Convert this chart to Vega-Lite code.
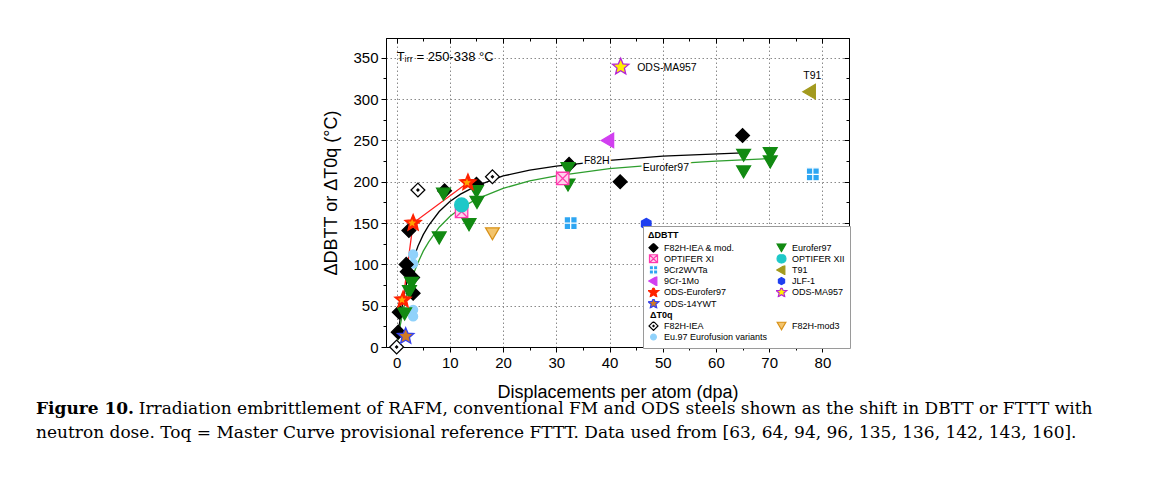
{
  "$schema": "https://vega.github.io/schema/vega-lite/v6.json",
  "width": 463,
  "height": 309,
  "autosize": {"type": "none"},
  "padding": {"left": 386, "top": 38, "right": 304, "bottom": 143},
  "background": "white",
  "config": {
    "font": "Liberation Sans",
    "view": {"stroke": "#000", "strokeWidth": 1}
  },
  "title": {
    "text": "Figure 10.",
    "subtitle": [
      "\u200b\u00a0\u00a0\u00a0\u00a0\u00a0\u00a0\u00a0\u00a0\u00a0\u00a0\u00a0\u00a0\u00a0\u00a0\u00a0\u00a0\u00a0\u00a0\u00a0Irradiation embrittlement of RAFM, conventional FM and ODS steels shown as the shift in DBTT or FTTT with",
      "neutron dose. Toq = Master Curve provisional reference FTTT. Data used from [63, 64, 94, 96, 135, 136, 142, 143, 160]."
    ],
    "orient": "bottom",
    "anchor": "start",
    "frame": "group",
    "dx": -350,
    "offset": 0,
    "font": "DejaVu Serif",
    "fontSize": 17,
    "fontWeight": "bold",
    "color": "#000",
    "subtitleFont": "DejaVu Serif",
    "subtitleFontSize": 17,
    "subtitleFontWeight": "normal",
    "subtitleColor": "#000",
    "subtitleLineHeight": 24,
    "subtitlePadding": -17
  },
  "datasets": {
    "pts": [
      {"material": "Eu.97 Eurofusion variants", "dpa": 3.1, "val": 112},
      {"material": "Eu.97 Eurofusion variants", "dpa": 3.1, "val": 101},
      {"material": "Eu.97 Eurofusion variants", "dpa": 3.1, "val": 45},
      {"material": "Eu.97 Eurofusion variants", "dpa": 3.1, "val": 37},
      {"material": "F82H-IEA", "dpa": 0, "val": 0},
      {"material": "F82H-IEA", "dpa": 4, "val": 190},
      {"material": "F82H-IEA", "dpa": 18, "val": 206},
      {"material": "F82H-mod3", "dpa": 18, "val": 137},
      {"material": "F82H-IEA & mod.", "dpa": 0.3, "val": 18},
      {"material": "F82H-IEA & mod.", "dpa": 0.5, "val": 42},
      {"material": "F82H-IEA & mod.", "dpa": 1.8, "val": 100},
      {"material": "F82H-IEA & mod.", "dpa": 2.0, "val": 91},
      {"material": "F82H-IEA & mod.", "dpa": 3.0, "val": 84},
      {"material": "F82H-IEA & mod.", "dpa": 3.1, "val": 65},
      {"material": "F82H-IEA & mod.", "dpa": 2.3, "val": 141},
      {"material": "F82H-IEA & mod.", "dpa": 9, "val": 189},
      {"material": "F82H-IEA & mod.", "dpa": 15, "val": 197},
      {"material": "F82H-IEA & mod.", "dpa": 32.4, "val": 221},
      {"material": "F82H-IEA & mod.", "dpa": 42, "val": 200},
      {"material": "F82H-IEA & mod.", "dpa": 65, "val": 256},
      {"material": "Eurofer97", "dpa": 1.5, "val": 40},
      {"material": "Eurofer97", "dpa": 2.4, "val": 67},
      {"material": "Eurofer97", "dpa": 2.8, "val": 77},
      {"material": "Eurofer97", "dpa": 8, "val": 132},
      {"material": "Eurofer97", "dpa": 8.8, "val": 185},
      {"material": "Eurofer97", "dpa": 13.6, "val": 148},
      {"material": "Eurofer97", "dpa": 15, "val": 188},
      {"material": "Eurofer97", "dpa": 15.1, "val": 175},
      {"material": "Eurofer97", "dpa": 32.2, "val": 216},
      {"material": "Eurofer97", "dpa": 32.2, "val": 196},
      {"material": "Eurofer97", "dpa": 65.2, "val": 232},
      {"material": "Eurofer97", "dpa": 65.2, "val": 212},
      {"material": "Eurofer97", "dpa": 70.2, "val": 234},
      {"material": "Eurofer97", "dpa": 70.2, "val": 224},
      {"material": "OPTIFER XI", "dpa": 12.2, "val": 164},
      {"material": "OPTIFER XI", "dpa": 31.2, "val": 204},
      {"material": "OPTIFER XII", "dpa": 12.2, "val": 172},
      {"material": "9Cr2WVTa", "dpa": 32.7, "val": 150},
      {"material": "9Cr2WVTa", "dpa": 78.2, "val": 209},
      {"material": "T91", "dpa": 77.7, "val": 309},
      {"material": "9Cr-1Mo", "dpa": 39.8, "val": 250},
      {"material": "JLF-1", "dpa": 46.9, "val": 149},
      {"material": "ODS-Eurofer97", "dpa": 1.2, "val": 57},
      {"material": "ODS-Eurofer97", "dpa": 3.1, "val": 150},
      {"material": "ODS-Eurofer97", "dpa": 13.4, "val": 199},
      {"material": "ODS-MA957", "dpa": 42.1, "val": 339},
      {"material": "ODS-14YWT", "dpa": 1.7, "val": 13}
    ],
    "fits": [
      {"curve": "F82H", "dpa": 0.2, "val": 11},
      {"curve": "F82H", "dpa": 0.5, "val": 27},
      {"curve": "F82H", "dpa": 1, "val": 48},
      {"curve": "F82H", "dpa": 1.5, "val": 66},
      {"curve": "F82H", "dpa": 2, "val": 81},
      {"curve": "F82H", "dpa": 3, "val": 104},
      {"curve": "F82H", "dpa": 4, "val": 122},
      {"curve": "F82H", "dpa": 5, "val": 136},
      {"curve": "F82H", "dpa": 6, "val": 147},
      {"curve": "F82H", "dpa": 8, "val": 164},
      {"curve": "F82H", "dpa": 10, "val": 176},
      {"curve": "F82H", "dpa": 12, "val": 185},
      {"curve": "F82H", "dpa": 15, "val": 195},
      {"curve": "F82H", "dpa": 20, "val": 207},
      {"curve": "F82H", "dpa": 25, "val": 214},
      {"curve": "F82H", "dpa": 30, "val": 219},
      {"curve": "F82H", "dpa": 40, "val": 226},
      {"curve": "F82H", "dpa": 50, "val": 231},
      {"curve": "F82H", "dpa": 65, "val": 235},
      {"curve": "Eurofer97", "dpa": 0.2, "val": 8},
      {"curve": "Eurofer97", "dpa": 0.5, "val": 20},
      {"curve": "Eurofer97", "dpa": 1, "val": 37},
      {"curve": "Eurofer97", "dpa": 1.5, "val": 52},
      {"curve": "Eurofer97", "dpa": 2, "val": 65},
      {"curve": "Eurofer97", "dpa": 3, "val": 86},
      {"curve": "Eurofer97", "dpa": 4, "val": 102},
      {"curve": "Eurofer97", "dpa": 5, "val": 116},
      {"curve": "Eurofer97", "dpa": 6, "val": 127},
      {"curve": "Eurofer97", "dpa": 8, "val": 145},
      {"curve": "Eurofer97", "dpa": 10, "val": 158},
      {"curve": "Eurofer97", "dpa": 12, "val": 168},
      {"curve": "Eurofer97", "dpa": 15, "val": 179},
      {"curve": "Eurofer97", "dpa": 20, "val": 192},
      {"curve": "Eurofer97", "dpa": 25, "val": 201},
      {"curve": "Eurofer97", "dpa": 30, "val": 207},
      {"curve": "Eurofer97", "dpa": 40, "val": 216},
      {"curve": "Eurofer97", "dpa": 50, "val": 221},
      {"curve": "Eurofer97", "dpa": 60, "val": 225},
      {"curve": "Eurofer97", "dpa": 70, "val": 228}
    ],
    "ann": [
      {"txt": "F82H", "dpa": 37.6, "val": 225},
      {"txt": "Eurofer97", "dpa": 50.6, "val": 217},
      {"txt": "ODS-MA957", "dpa": 45.2, "val": 338},
      {"txt": "T91", "dpa": 78.1, "val": 328},
      {"txt": "T\u1d62\u1d63\u1d63 = 250-338 °C", "dpa": 0, "val": 351}
    ]
  },
  "layer": [
    {
      "data": {"name": "fits"},
      "transform": [{"filter": "datum.curve === 'F82H'"}],
      "mark": {"type": "line", "color": "#000", "strokeWidth": 1.3},
      "encoding": {
        "x": {
          "field": "dpa", "type": "quantitative",
          "scale": {"domain": [-2, 85], "nice": false, "zero": false},
          "axis": {
            "orient": "bottom",
            "values": [0, 10, 20, 30, 40, 50, 60, 70, 80],
            "tickSize": 5,
            "grid": true,
            "gridDash": [1.5, 2.5],
            "gridColor": "#8a8a8a",
            "gridWidth": 1,
            "domainColor": "#000",
            "tickColor": "#000",
            "labelColor": "#000",
            "labelFontSize": 15,
            "labelPadding": 3,
            "title": "Displacements per atom (dpa)",
            "titleFontSize": 18,
            "titleFontWeight": "normal",
            "titleColor": "#000",
            "titlePadding": 13
          }
        },
        "y": {
          "field": "val", "type": "quantitative",
          "scale": {"domain": [0, 374], "nice": false, "zero": false},
          "axis": {
            "orient": "left",
            "values": [0, 50, 100, 150, 200, 250, 300, 350],
            "tickSize": 5,
            "grid": true,
            "gridDash": [1.5, 2.5],
            "gridColor": "#8a8a8a",
            "gridWidth": 1,
            "domainColor": "#000",
            "tickColor": "#000",
            "labelColor": "#000",
            "labelFontSize": 15,
            "labelPadding": 3,
            "title": "ΔDBTT or ΔT0q (°C)",
            "titleFontSize": 18,
            "titleFontWeight": "normal",
            "titleColor": "#000",
            "titlePadding": 12
          }
        }
      }
    },
    {
      "data": {"name": "fits"},
      "transform": [{"filter": "datum.curve === 'Eurofer97'"}],
      "mark": {"type": "line", "color": "#2e9e2e", "strokeWidth": 1.3},
      "encoding": {
        "x": {
          "field": "dpa", "type": "quantitative",
          "scale": {"domain": [-2, 85], "nice": false, "zero": false},
          "axis": {
            "orient": "top",
            "values": [0, 10, 20, 30, 40, 50, 60, 70, 80],
            "labels": false, "title": null, "grid": false,
            "domainColor": "#000", "tickColor": "#000", "tickSize": -5
          }
        },
        "y": {
          "field": "val", "type": "quantitative",
          "scale": {"domain": [0, 374], "nice": false, "zero": false},
          "axis": {
            "orient": "right",
            "values": [0, 50, 100, 150, 200, 250, 300, 350],
            "labels": false, "title": null, "grid": false,
            "domainColor": "#000", "tickColor": "#000", "tickSize": -5
          }
        }
      }
    },
    {
      "data": {"name": "pts"},
      "transform": [{"filter": "datum.material === 'ODS-Eurofer97'"}],
      "mark": {"type": "line", "color": "#ff2020", "strokeWidth": 1.3},
      "encoding": {
        "x": {
          "field": "dpa", "type": "quantitative",
          "scale": {"domain": [-2, 85], "nice": false, "zero": false},
          "axis": {
            "orient": "bottom",
            "values": [5, 15, 25, 35, 45, 55, 65, 75],
            "labels": false, "title": null, "grid": false, "domain": false,
            "tickColor": "#000", "tickSize": 3
          }
        },
        "y": {
          "field": "val", "type": "quantitative",
          "scale": {"domain": [0, 374], "nice": false, "zero": false},
          "axis": {
            "orient": "left",
            "values": [25, 75, 125, 175, 225, 275, 325],
            "labels": false, "title": null, "grid": false, "domain": false,
            "tickColor": "#000", "tickSize": 3
          }
        }
      }
    },
    {
      "data": {"name": "pts"},
      "mark": {"type": "point", "filled": true, "size": 190, "strokeWidth": 1.3, "opacity": 1},
      "encoding": {
        "x": {"field": "dpa", "type": "quantitative", "scale": {"domain": [-2, 85], "nice": false, "zero": false}, "axis": null},
        "y": {"field": "val", "type": "quantitative", "scale": {"domain": [0, 374], "nice": false, "zero": false}, "axis": null},
        "fill": {
          "field": "material", "type": "nominal",
          "scale": {
            "domain": ["F82H-IEA & mod.", "OPTIFER XI", "9Cr2WVTa", "9Cr-1Mo", "ODS-Eurofer97", "ODS-14YWT", "_h", "F82H-IEA", "Eu.97 Eurofusion variants", "Eurofer97", "OPTIFER XII", "T91", "JLF-1", "ODS-MA957", "_b1", "_b2", "F82H-mod3", "_b3"],
            "range": ["#000000", "#ffd0ec", "#2ea6f2", "#d13ff0", "#ff2200", "#d07a24", "transparent", "#ffffff", "#90d2fb", "#128a12", "#1ec8c8", "#a39a1e", "#1f3ff0", "#fff200", "transparent", "transparent", "#f3c46c", "transparent"]
          },
          "legend": {
            "title": "ΔDBTT", "orient": "none", "legendX": 257, "legendY": 188, "columns": 2,
            "symbolSize": 80, "symbolStrokeWidth": 1.2, "clipHeight": 9,
            "labelFontSize": 9, "labelFont": "Liberation Sans", "labelColor": "#000", "labelLimit": 200,
            "labelOffset": {"expr": "datum.value === '_h' ? -9 : 5"},
            "labelFontWeight": {"expr": "datum.value === '_h' ? 'bold' : 'normal'"},
            "titleFontSize": 9, "titleFont": "Liberation Sans", "titleFontWeight": "bold", "titleColor": "#000", "titlePadding": 3,
            "rowPadding": 1.2, "columnPadding": 8, "padding": 5, "strokeColor": "#9a9a9a", "fillColor": "#ffffff",
            "labelExpr": "datum.value === '_h' ? 'ΔT0q' : (indexof(datum.value, '_') === 0 ? '' : datum.label)"
          }
        },
        "stroke": {
          "field": "material", "type": "nominal",
          "scale": {
            "domain": ["F82H-IEA & mod.", "OPTIFER XI", "9Cr2WVTa", "9Cr-1Mo", "ODS-Eurofer97", "ODS-14YWT", "_h", "F82H-IEA", "Eu.97 Eurofusion variants", "Eurofer97", "OPTIFER XII", "T91", "JLF-1", "ODS-MA957", "_b1", "_b2", "F82H-mod3", "_b3"],
            "range": ["#000000", "#ff3aae", "#ffffff", "#d13ff0", "#ff2200", "#3340ee", "transparent", "#000000", "#90d2fb", "#128a12", "#1ec8c8", "#a39a1e", "#1f3ff0", "#b524d6", "transparent", "transparent", "#d8921a", "transparent"]
          },
          "legend": {
            "title": "ΔDBTT", "orient": "none", "legendX": 257, "legendY": 188, "columns": 2,
            "symbolSize": 80, "symbolStrokeWidth": 1.2, "clipHeight": 9,
            "labelFontSize": 9, "labelFont": "Liberation Sans", "labelColor": "#000", "labelLimit": 200,
            "labelOffset": {"expr": "datum.value === '_h' ? -9 : 5"},
            "labelFontWeight": {"expr": "datum.value === '_h' ? 'bold' : 'normal'"},
            "titleFontSize": 9, "titleFont": "Liberation Sans", "titleFontWeight": "bold", "titleColor": "#000", "titlePadding": 3,
            "rowPadding": 1.2, "columnPadding": 8, "padding": 5, "strokeColor": "#9a9a9a", "fillColor": "#ffffff",
            "labelExpr": "datum.value === '_h' ? 'ΔT0q' : (indexof(datum.value, '_') === 0 ? '' : datum.label)"
          }
        },
        "shape": {
          "field": "material", "type": "nominal",
          "scale": {
            "domain": ["F82H-IEA & mod.", "OPTIFER XI", "9Cr2WVTa", "9Cr-1Mo", "ODS-Eurofer97", "ODS-14YWT", "_h", "F82H-IEA", "Eu.97 Eurofusion variants", "Eurofer97", "OPTIFER XII", "T91", "JLF-1", "ODS-MA957", "_b1", "_b2", "F82H-mod3", "_b3"],
            "range": [
              "diamond",
              "M-0.9,-0.9H0.9V0.9H-0.9Z M-0.9,-0.9L0.9,0.9 M0.9,-0.9L-0.9,0.9",
              "M-0.95,-0.95H0.95V0.95H-0.95Z M0,-0.95V0.95 M-0.95,0H0.95",
              "M-1.05,0L0.75,-1.05L0.75,1.05Z",
              "M0,-1.25L0.33,-0.455L1.189,-0.386L0.535,0.174L0.735,1.011L0,0.563L-0.735,1.011L-0.535,0.174L-1.189,-0.386L-0.33,-0.455Z",
              "M0,-1.25L0.33,-0.455L1.189,-0.386L0.535,0.174L0.735,1.011L0,0.563L-0.735,1.011L-0.535,0.174L-1.189,-0.386L-0.33,-0.455Z",
              "circle",
              "M0,-1L1,0L0,1L-1,0Z M0,-0.15L0.15,0L0,0.15L-0.15,0Z",
              "M-0.65,0A0.65,0.65 0 1,0 0.65,0A0.65,0.65 0 1,0 -0.65,0Z",
              "triangle-down",
              "circle",
              "M-1.05,0L0.75,-1.05L0.75,1.05Z",
              "M0,-0.8L0.69,-0.4L0.69,0.4L0,0.8L-0.69,0.4L-0.69,-0.4Z",
              "M0,-1.25L0.33,-0.455L1.189,-0.386L0.535,0.174L0.735,1.011L0,0.563L-0.735,1.011L-0.535,0.174L-1.189,-0.386L-0.33,-0.455Z",
              "circle",
              "circle",
              "triangle-down",
              "circle"
            ]
          },
          "legend": {
            "title": "ΔDBTT", "orient": "none", "legendX": 257, "legendY": 188, "columns": 2,
            "symbolSize": 80, "symbolStrokeWidth": 1.2, "clipHeight": 9,
            "labelFontSize": 9, "labelFont": "Liberation Sans", "labelColor": "#000", "labelLimit": 200,
            "labelOffset": {"expr": "datum.value === '_h' ? -9 : 5"},
            "labelFontWeight": {"expr": "datum.value === '_h' ? 'bold' : 'normal'"},
            "titleFontSize": 9, "titleFont": "Liberation Sans", "titleFontWeight": "bold", "titleColor": "#000", "titlePadding": 3,
            "rowPadding": 1.2, "columnPadding": 8, "padding": 5, "strokeColor": "#9a9a9a", "fillColor": "#ffffff",
            "labelExpr": "datum.value === '_h' ? 'ΔT0q' : (indexof(datum.value, '_') === 0 ? '' : datum.label)"
          }
        }
      }
    },
    {
      "data": {"name": "pts"},
      "transform": [{"filter": "datum.material === 'ODS-Eurofer97'"}],
      "mark": {"type": "point", "shape": "M0,-1.25L0.33,-0.455L1.189,-0.386L0.535,0.174L0.735,1.011L0,0.563L-0.735,1.011L-0.535,0.174L-1.189,-0.386L-0.33,-0.455Z", "filled": true, "size": 45, "color": "#ffd800", "strokeWidth": 0, "xOffset": -1},
      "encoding": {
        "x": {"field": "dpa", "type": "quantitative", "scale": {"domain": [-2, 85], "nice": false, "zero": false}, "axis": null},
        "y": {"field": "val", "type": "quantitative", "scale": {"domain": [0, 374], "nice": false, "zero": false}, "axis": null}
      }
    },
    {
      "data": {"name": "ann"},
      "transform": [{"filter": "datum.txt === 'F82H' || datum.txt === 'Eurofer97'"}],
      "mark": {"type": "text", "font": "Liberation Sans", "fontSize": 10.5, "color": "#fff", "stroke": "#fff", "strokeWidth": 4, "align": "center", "baseline": "middle"},
      "encoding": {
        "x": {
          "field": "dpa", "type": "quantitative",
          "scale": {"domain": [-2, 85], "nice": false, "zero": false},
          "axis": {
            "orient": "top",
            "values": [5, 15, 25, 35, 45, 55, 65, 75],
            "labels": false, "title": null, "grid": false, "domain": false,
            "tickColor": "#000", "tickSize": -3
          }
        },
        "y": {
          "field": "val", "type": "quantitative",
          "scale": {"domain": [0, 374], "nice": false, "zero": false},
          "axis": {
            "orient": "right",
            "values": [25, 75, 125, 175, 225, 275, 325],
            "labels": false, "title": null, "grid": false, "domain": false,
            "tickColor": "#000", "tickSize": -3
          }
        },
        "text": {"field": "txt"}
      }
    },
    {
      "data": {"name": "ann"},
      "transform": [{"filter": "datum.txt === 'F82H' || datum.txt === 'Eurofer97' || datum.txt === 'T91'"}],
      "mark": {"type": "text", "font": "Liberation Sans", "fontSize": 10.5, "color": "#000", "align": "center", "baseline": "middle"},
      "encoding": {
        "x": {"field": "dpa", "type": "quantitative", "scale": {"domain": [-2, 85], "nice": false, "zero": false}, "axis": null},
        "y": {"field": "val", "type": "quantitative", "scale": {"domain": [0, 374], "nice": false, "zero": false}, "axis": null},
        "text": {"field": "txt"}
      }
    },
    {
      "data": {"name": "ann"},
      "transform": [{"filter": "datum.txt === 'ODS-MA957'"}],
      "mark": {"type": "text", "font": "Liberation Sans", "fontSize": 10.5, "color": "#000", "align": "left", "baseline": "middle"},
      "encoding": {
        "x": {"field": "dpa", "type": "quantitative", "scale": {"domain": [-2, 85], "nice": false, "zero": false}, "axis": null},
        "y": {"field": "val", "type": "quantitative", "scale": {"domain": [0, 374], "nice": false, "zero": false}, "axis": null},
        "text": {"field": "txt"}
      }
    },
    {
      "data": {"name": "ann"},
      "transform": [{"filter": "indexof(datum.txt, '250-338') >= 0"}],
      "mark": {"type": "text", "font": "Liberation Sans", "fontSize": 13, "color": "#000", "align": "left", "baseline": "middle"},
      "encoding": {
        "x": {"field": "dpa", "type": "quantitative", "scale": {"domain": [-2, 85], "nice": false, "zero": false}, "axis": null},
        "y": {"field": "val", "type": "quantitative", "scale": {"domain": [0, 374], "nice": false, "zero": false}, "axis": null},
        "text": {"field": "txt"}
      }
    }
  ],
  "resolve": {"axis": {"x": "independent", "y": "independent"}}
}
